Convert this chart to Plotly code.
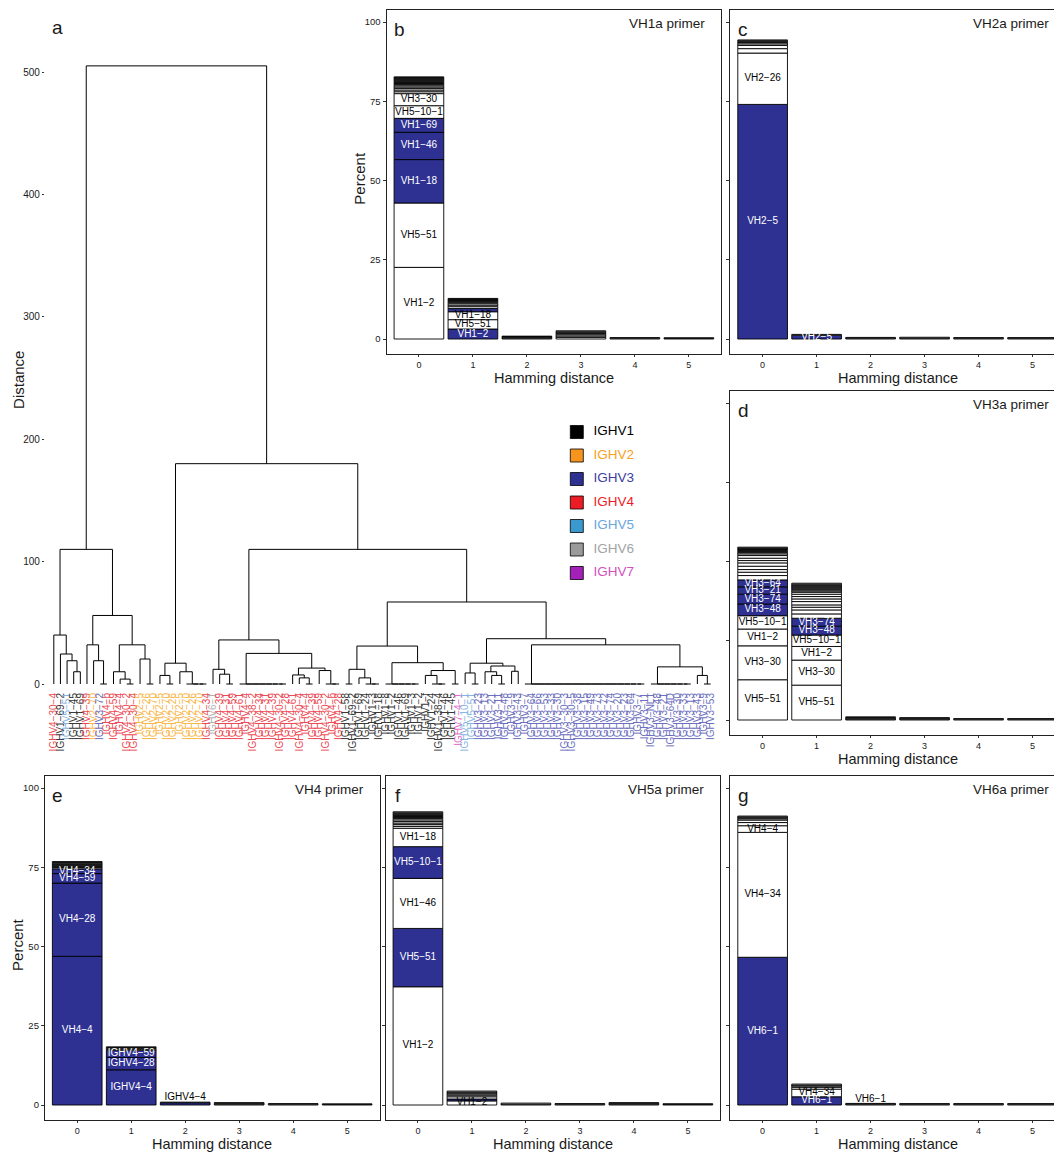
import plotly.graph_objects as go

W, H = 1058, 1153
FONT = "Liberation Sans, Arial, Helvetica, sans-serif"
NAVY = "#2E3192"
INK = "#1a1a1a"

# ---------------- IGHV families (legend) ----------------
families = ["IGHV1", "IGHV2", "IGHV3", "IGHV4", "IGHV5", "IGHV6", "IGHV7"]
family_fill = ["#000000", "#F7941D", "#2E3192", "#ED1C24", "#3A9AD0", "#9A9A9A", "#A321B8"]
family_text = ["#000000", "#F7A21E", "#3C40A0", "#ED1C24", "#6AA6DD", "#A3A3A3", "#D24FBF"]
leaf_text = ["#3A3A3A", "#F9B84C", "#6D70BE", "#EC4B55", "#86B5E3", "#B3B3B3", "#E46CC6"]

# ---------------- dendrogram leaves, left to right ----------------
leaf_labels = [
    "IGHV4-30-4", "IGHV1-69-2", "IGHV5-51", "IGHV1-45", "IGHV1-69", "IGHV4-39", "IGHV2-70",
    "IGHV3-72", "IGHV4-b", "IGHV4-59", "IGHV4-4", "IGHV4-30-2", "IGHV4-30-4", "IGHV2-5",
    "IGHV2-26", "IGHV2-70", "IGHV2-5", "IGHV2-70", "IGHV2-26", "IGHV2-5", "IGHV2-70",
    "IGHV2-26", "IGHV2-70", "IGHV4-34", "IGHV6-1", "IGHV4-39", "IGHV4-31", "IGHV4-59",
    "IGHV4-61", "IGHV4-4", "IGHV4-38-2", "IGHV4-34", "IGHV4-31", "IGHV4-39", "IGHV4-30-2",
    "IGHV4-28", "IGHV4-61", "IGHV4-30-4", "IGHV4-4", "IGHV4-39", "IGHV4-59", "IGHV4-30-2",
    "IGHV4-b", "IGHV4-28", "IGHV1-58", "IGHV1-69-2", "IGHV1-69", "IGHV1-24", "IGHV1-3",
    "IGHV1-18", "IGHV1-8", "IGHV1-2", "IGHV1-46", "IGHV1-69", "IGHV1-3", "IGHV1-2",
    "IGHV1-f", "IGHV1-24", "IGHV1-38-4", "IGHV1-46", "IGHV1-45", "IGHV7-4-1", "IGHV5-10-1",
    "IGHV5-51", "IGHV3-23", "IGHV3-13", "IGHV3-21", "IGHV3-11", "IGHV3-48", "IGHV3-9",
    "IGHV3-43", "IGHV3-7", "IGHV3-64", "IGHV3-66", "IGHV3-53", "IGHV3-33", "IGHV3-30",
    "IGHV3-30-3", "IGHV3-30-5", "IGHV3-38", "IGHV3-15", "IGHV3-49", "IGHV3-73", "IGHV3-72",
    "IGHV3-74", "IGHV3-20", "IGHV3-23", "IGHV3-64", "IGHV3-7", "IGHV3-11", "IGHV3-NL1",
    "IGHV3-48", "IGHV3-21", "IGHV3-64D", "IGHV3-30", "IGHV3-33", "IGHV3-13", "IGHV3-43",
    "IGHV3-9", "IGHV3-53",
]

# Merge tree: [height, child, child, ...]; integers are 1-based leaf numbers.
# Nodes with more than two children are tied merges at the same height.
clade_left = [110,
              [40, 1, [24.5, 2, [19, 3, [10, 4, 5]]]],
              [56,
               [32, 6, [19, 7, [0, 8, 9]]],
               [32, [10, 10, [4, 11, [0, 12, 13]]], [20.4, 14, [0, 15, 16]]]]]
clade_v2 = [17, [7, 17, [0, 18, 19]], [10, 20, [0, 21, 22, 23, 24]]]
clade_v4 = [36,
            [12, 25, [8, 26, [0, 27, 28]]],
            [25,
             [0, 29, 30, 31, 32, 33, 34, 35, 36],
             [13, [7.4, 37, [5, 38, [0, 39, 40]]], [11, 41, [0, 42, 43, 44]]]]]
clade_v1 = [31,
            [12, [0, 45, 46], [5, 47, [0, 48, 49, 50]]],
            [17.4, [0, 51, 52, 53, 54, 55, 56],
             [11, [7, 57, [0, 58, 59, 60]], [0, 61, 62]]]]
clade_v3 = [37,
            [17, [9, 63, [0, 64, 65]], [14.7, [10, 66, [7, 67, [0, 68, 69]]], [10.4, 70, 71]]],
            [32,
             [0, 72, 73, 74, 75, 76, 77, 78, 79, 80, 81, 82, 83, 84, 85, 86, 87, 88, 89, 90],
             [14, [0, 91, 92, 93, 94, 95, 96, 97], [7, 98, [0, 99, 100]]]]]
tree = [505, clade_left, [180, clade_v2, [110, clade_v4, [67, clade_v1, clade_v3]]]]

# ---------------- stacked primer panels ----------------
# named segments per Hamming distance: (gene, percent, highlighted)
# tail: the many rare genes stacked above them (percent each)
vh1a_named = [
    [("VH1-2", 22.6, 0), ("VH5-51", 20.3, 0), ("VH1-18", 13.7, 1), ("VH1-46", 8.6, 1),
     ("VH1-69", 4.4, 1), ("VH5-10-1", 4.0, 0), ("VH3-30", 3.8, 0)],
    [("VH1-2", 3.15, 1), ("VH5-51", 2.95, 0), ("VH1-18", 2.5, 0), ("", 1.0, 1)],
    [], [], [], [],
]
vh1a_tail = [
    [0.6, 0.55, 0.5, 0.45, 0.4, 0.4, 0.3, 0.3, 0.28, 0.28, 0.26, 0.26, 0.25, 0.25, 0.22],
    [0.6, 0.5, 0.45, 0.4, 0.3, 0.3, 0.25, 0.2, 0.2],
    [0.3, 0.25, 0.2, 0.15],
    [0.5, 0.45, 0.4, 0.35, 0.3, 0.3, 0.3],
    [0.25, 0.2],
    [0.2, 0.2],
]

vh2a_named = [
    [("VH2-5", 74.0, 1), ("VH2-26", 16.2, 0)],
    [("VH2-5", 1.2, 1)],
    [], [], [], [],
]
vh2a_tail = [
    [1.4, 1.0, 0.5, 0.4, 0.3, 0.3, 0.25],
    [0.25],
    [0.3, 0.2],
    [0.3, 0.25],
    [0.25, 0.2],
    [0.25, 0.2],
]

vh3a_named = [
    [("VH5-51", 12.7, 0), ("VH3-30", 10.7, 0), ("VH1-2", 5.3, 0), ("VH5-10-1", 4.2, 0),
     ("VH3-48", 3.7, 1), ("VH3-74", 3.1, 1), ("VH3-21", 2.3, 1), ("VH3-64", 2.2, 1)],
    [("VH5-51", 11.0, 0), ("VH3-30", 7.9, 0), ("VH1-2", 4.3, 0), ("VH5-10-1", 3.6, 0),
     ("VH3-48", 2.8, 1), ("VH3-74", 2.5, 1)],
    [], [], [], [],
]
vh3a_tail = [
    [1.37, 1.05, 0.84, 1.05, 1.05, 0.74, 0.74, 0.84, 0.53, 0.4, 0.35, 0.32, 0.3, 0.25, 0.25, 0.24],
    [1.37, 1.26, 0.84, 0.74, 1.05, 0.84, 0.74, 0.74, 0.63, 0.4, 0.35, 0.3,
     0.3, 0.3, 0.3, 0.3, 0.3, 0.29],
    [0.3, 0.25, 0.25, 0.2],
    [0.3, 0.25, 0.2],
    [0.25, 0.2],
    [0.25, 0.2],
]

vh4_named = [
    [("VH4-4", 46.9, 1), ("VH4-28", 23.1, 1), ("VH4-59", 3.0, 1), ("VH4-34", 1.5, 1)],
    [("IGHV4-4", 11.1, 1), ("IGHV4-28", 3.9, 1), ("IGHV4-59", 2.3, 1)],
    [("IGHV4-4", 0.7, 1)],
    [], [], [],
]
vh4_tail = [
    [0.4, 0.3, 0.28, 0.28, 0.26, 0.26, 0.26, 0.26],
    [0.3, 0.3, 0.25, 0.2],
    [0.2],
    [0.3, 0.25, 0.2],
    [0.25, 0.2],
    [0.2, 0.15],
]

vh5a_named = [
    [("VH1-2", 37.3, 0), ("VH5-51", 18.4, 1), ("VH1-46", 15.8, 0), ("VH5-10-1", 10.0, 1),
     ("VH1-18", 5.8, 0)],
    [("VH1-2", 1.3, 0), ("", 0.6, 1)],
    [], [], [], [],
]
vh5a_tail = [
    [0.6, 0.55, 0.5, 0.5, 0.5, 0.45, 0.3, 0.3, 0.3, 0.3, 0.3, 0.3, 0.3],
    [0.7, 0.5, 0.4, 0.3, 0.3, 0.3],
    [0.3, 0.3],
    [0.25, 0.2],
    [0.3, 0.25, 0.2],
    [0.2, 0.2],
]

vh6a_named = [
    [("VH6-1", 46.6, 1), ("VH4-34", 39.4, 0), ("VH4-4", 2.1, 0)],
    [("VH6-1", 2.6, 1), ("VH4-34", 2.4, 0)],
    [("VH6-1", 0.3, 0)],
    [], [], [],
]
vh6a_tail = [
    [1.0, 0.8, 0.4, 0.3, 0.3, 0.25],
    [0.6, 0.4, 0.3, 0.3],
    [0.2],
    [0.25, 0.2],
    [0.25, 0.2],
    [0.25, 0.2],
]

hamming = [0, 1, 2, 3, 4, 5]
pct_ticks = [0, 25, 50, 75, 100]

# panel: (letter, title, named, tail, frame left/right/top/bottom in px, show y labels, y title)
panels = [
    ("b", "VH1a primer", vh1a_named, vh1a_tail, (388, 724, 10, 354), True, True),
    ("c", "VH2a primer", vh2a_named, vh2a_tail, (733, 1069, 10, 354), False, False),
    ("d", "VH3a primer", vh3a_named, vh3a_tail, (733, 1069, 391, 735), False, False),
    ("e", "VH4 primer", vh4_named, vh4_tail, (45, 381, 776, 1120), True, True),
    ("f", "VH5a primer", vh5a_named, vh5a_tail, (387, 723, 776, 1120), False, False),
    ("g", "VH6a primer", vh6a_named, vh6a_tail, (733, 1069, 776, 1120), False, False),
]


def xdom(l, r):
    return [max(l, 0) / W, min(r, W) / W]


def ydom(t, b):
    return [1 - b / H, 1 - t / H]


def note(text, px, py, size, xanchor="center", angle=0):
    return dict(text=text, x=px / W, y=1 - py / H, xref="paper", yref="paper",
                xanchor=xanchor, yanchor="middle", textangle=angle, showarrow=False,
                font=dict(size=size), borderpad=0)


fig = go.Figure()
layout = dict(
    width=W, height=H, margin=dict(l=0, r=0, t=0, b=0),
    paper_bgcolor="white", plot_bgcolor="white",
    font=dict(family=FONT, color=INK, size=10),
    showlegend=False, barmode="overlay",
)
annotations = []

# ---------------- panel a: dendrogram ----------------
def expand(node):
    if isinstance(node, int):
        return node
    h, *kids = node
    kids = [expand(k) for k in kids]
    while len(kids) > 2:
        kids = kids[:-2] + [[h, kids[-2], kids[-1]]]
    return [h] + kids


seg_x, seg_y = [], []


def place(node):
    if isinstance(node, int):
        return float(node), 0.0
    h, left, right = node
    xl, hl = place(left)
    xr, hr = place(right)
    seg_x.extend([xl, xl, xr, xr, None])
    seg_y.extend([hl, h, h, hr, None])
    return (xl + xr) / 2, h


place(expand(tree))
fig.add_trace(go.Scatter(x=seg_x, y=seg_y, mode="lines", line=dict(color="black", width=1),
                         hoverinfo="skip", xaxis="x", yaxis="y"))

leaf_pos = list(range(1, len(leaf_labels) + 1))
leaf_ticktext = []
for lab in leaf_labels:
    fam = int(lab[4]) - 1
    leaf_ticktext.append('<span style="color:%s">%s</span>' % (leaf_text[fam], lab.replace("-", "\u2212")))

px_per_leaf = 6.66
layout["xaxis"] = dict(domain=xdom(45, 715),
                       range=[1 + (45 - 54) / px_per_leaf, 1 + (715 - 54) / px_per_leaf],
                       tickmode="array", tickvals=leaf_pos, ticktext=leaf_ticktext,
                       tickangle=-90, ticks="", showline=False, showgrid=False, zeroline=False,
                       tickfont=dict(size=10, family=FONT), anchor="y")
dist_per_px = 1 / 1.224
layout["yaxis"] = dict(domain=ydom(60, 690),
                       range=[(684 - 690) * dist_per_px, (684 - 60) * dist_per_px],
                       tickmode="array", tickvals=[0, 100, 200, 300, 400, 500],
                       ticks="outside", ticklen=2, tickcolor="#333", showline=False,
                       showgrid=False, zeroline=False, tickfont=dict(size=10), anchor="x")
annotations.append(note("Distance", 18, 380, 15, angle=-90))
annotations.append(note("a", 58, 27, 19))

# ---------------- legend ----------------
fam_rows = list(range(len(families)))
fig.add_trace(go.Scatter(
    x=[13] * len(families), y=fam_rows, mode="markers+text",
    marker=dict(symbol="square", size=13, color=family_fill, line=dict(color="black", width=0.8)),
    text=["  " + f for f in families], textposition="middle right",
    textfont=dict(size=13.5, color=family_text, family=FONT),
    hoverinfo="skip", xaxis="x8", yaxis="y8", cliponaxis=False))
layout["xaxis8"] = dict(domain=xdom(566, 700), range=[0, 134], visible=False, anchor="y8")
layout["yaxis8"] = dict(domain=ydom(420, 585), range=[(585 - 432) / 23.5, (420 - 432) / 23.5],
                        visible=False, anchor="x8")

# ---------------- panels b-g ----------------
units_per_px = 1 / 3.17
for k, (letter, title, named, tail, frame, ylabels, ytitle) in enumerate(panels):
    ax = k + 2
    l, r, t, b = frame
    xs, vals, bases, fills = [], [], [], []
    tx, ty, tt, tc, tp = [], [], [], [], []
    for d, (segs, rest) in enumerate(zip(named, tail)):
        base = 0.0
        for name, v, hi in segs:
            xs.append(hamming[d]); vals.append(v); bases.append(base)
            fills.append(NAVY if hi else "white")
            if name:
                tt.append(name.replace("-", "\u2212"))
                tx.append(hamming[d])
                if v < 1.0:
                    ty.append(base + v); tc.append("black"); tp.append("top center")
                else:
                    ty.append(base + v / 2); tc.append("white" if hi else "black"); tp.append("middle center")
            base += v
        for v in rest:
            xs.append(hamming[d]); vals.append(v); bases.append(base)
            fills.append("white")
            base += v
    xa, ya = "x%d" % ax, "y%d" % ax
    fig.add_trace(go.Bar(x=xs, y=vals, base=bases, width=0.92,
                         marker=dict(color=fills, line=dict(color="black", width=0.9)),
                         hoverinfo="skip", xaxis=xa, yaxis=ya))
    fig.add_trace(go.Scatter(x=tx, y=ty, text=tt, mode="text", textposition=tp,
                             textfont=dict(size=10, color=tc, family=FONT),
                             hoverinfo="skip", xaxis=xa, yaxis=ya, cliponaxis=False))
    span = 6.2 * (min(r, W) - l) / (r - l)
    cut = r > W
    y_lo = (340 - 355) * units_per_px
    y_hi = y_lo + (b - t) * units_per_px
    layout["xaxis%d" % ax] = dict(domain=xdom(l, r), range=[-0.6, -0.6 + span],
                                  tickmode="array", tickvals=hamming, ticks="outside", ticklen=2,
                                  tickcolor="#333", showline=True, linecolor="#222", linewidth=1,
                                  mirror=True, showgrid=False, zeroline=False,
                                  tickfont=dict(size=9), anchor=ya)
    layout["yaxis%d" % ax] = dict(domain=ydom(t, b), range=[y_lo, y_hi],
                                  tickmode="array", tickvals=pct_ticks, showticklabels=ylabels,
                                  ticks="outside", ticklen=3, tickcolor="#333", showline=True,
                                  linecolor="#222", linewidth=1, mirror=not cut,
                                  showgrid=False, zeroline=False, tickfont=dict(size=9.5),
                                  anchor=xa)
    cx = (l + r) / 2
    annotations.append(note("Hamming distance", cx, b + 24, 14.5))
    annotations.append(note(letter, l + 13, t + 19, 19))
    annotations.append(note(title, r - 15, t + 13, 13.5, xanchor="right"))
    if ytitle:
        annotations.append(note("Percent", l - 28, t + 168, 15, angle=-90))

layout["annotations"] = annotations
fig.update_layout(**layout)
fig.write_html("out.html")
